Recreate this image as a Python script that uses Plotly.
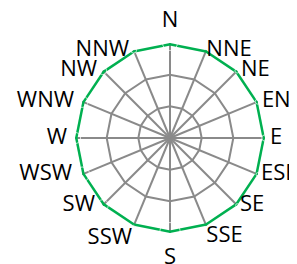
import plotly.graph_objects as go

directions = ["N", "NNE", "NE", "ENE", "E", "ESE", "SE", "SSE",
              "S", "SSW", "SW", "WSW", "W", "WNW", "NW", "NNW"]
values = [3, 3, 3, 3, 3, 3, 3, 3, 3, 3, 3, 3, 3, 3, 3, 3]
ring_values = [1, 2, 3]

# label placement style (text side + spacing from the spoke end)
label_positions = ["top center", "middle right", "middle right", "middle right",
                   "middle right", "middle right", "middle right", "bottom right",
                   "bottom center", "bottom left", "middle left", "middle left",
                   "middle left", "middle left", "middle left", "middle left"]
label_spacing = [15, 0, 4.5, 5, 6.4, 3.5, 3, 0,
                 21, 1, 11, 14.7, 11.2, 11.5, 7.7, 5.8]

fig = go.Figure()
fig.add_trace(go.Scatterpolar(
    r=values + [values[0]],
    theta=directions + [directions[0]],
    mode="lines",
    line=dict(color="#00B050", width=5),
    hoverinfo="skip",
))
# category labels placed just outside each spoke end (like the reference)
fig.add_trace(go.Scatterpolar(
    r=values,
    theta=directions,
    mode="markers+text",
    text=directions,
    textposition=label_positions,
    textfont=dict(family="Open Sans", size=22, color="#000000"),
    marker=dict(size=label_spacing, color="rgba(0,0,0,0)"),
    cliponaxis=False,
    hoverinfo="skip",
))

# page body adds an 8px offset; positions below are in figure coordinates
W, H = 297, 264
cx, cy, R = 162, 130, 95
fig.update_layout(
    width=W, height=H,
    margin=dict(l=0, r=0, t=0, b=0),
    paper_bgcolor="white",
    showlegend=False,
    font=dict(family="Open Sans", size=22, color="#000000"),
    polar=dict(
        domain=dict(x=[(cx - R) / W, (cx + R) / W],
                    y=[(H - cy - R) / H, (H - cy + R) / H]),
        bgcolor="white",
        gridshape="linear",
        radialaxis=dict(range=[0, 3], tickvals=ring_values, showticklabels=False,
                        ticks="", showline=False, gridcolor="#8A8A8A", gridwidth=1.8),
        angularaxis=dict(direction="clockwise", rotation=90,
                         ticks="", showticklabels=False,
                         showline=False, gridcolor="#8A8A8A", gridwidth=1.8),
    ),
)
fig.write_html("out.html")
